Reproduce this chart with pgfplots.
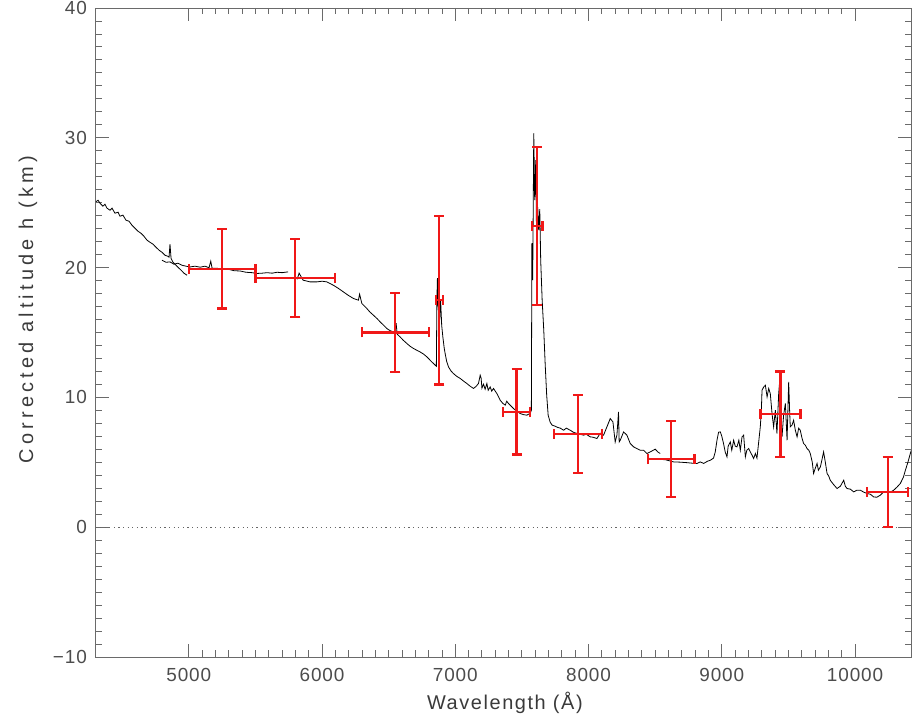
\documentclass[border=0pt]{standalone}
\usepackage{pgfplots}
\pgfplotsset{compat=1.18}
\usepackage{pgfplotstable}
\usepackage{fontspec}
\setmainfont{Liberation Sans}
\definecolor{ebred}{HTML}{F01818}
\definecolor{framegray}{HTML}{6A6A6A}
\definecolor{labgray}{HTML}{3A3A3A}

% measured error-bar points: wavelength, altitude, half widths
\pgfplotstableread{
x     y     ex   ey
5250  19.9  250  3.05
5800  19.2  300  3.0
6550  15.0  250  3.05
6880  17.5  25   6.5
7615  23.2  40   6.1
7460  8.9   100  3.3
7920  7.2   180  3.0
8620  5.25  175  2.95
9440  8.7   150  3.3
10245 2.7   155  2.7
}\points

\begin{document}
\begin{tikzpicture}
\useasboundingbox (-95.5bp,-59bp) rectangle (818.5bp,657bp);
\begin{axis}[
    scale only axis,
    width=815.5bp, height=649bp,
    xmin=4300, xmax=10420,
    ymin=-10, ymax=40,
    xtick={5000,6000,...,10000},
    ytick={-10,0,...,40},
    yticklabels={−10,0,10,20,30,40},
    minor x tick num=9,
    minor y tick num=9,
    tick align=inside,
    major tick length=13bp,
    minor tick length=6.5bp,
    scaled ticks=false,
    /pgf/number format/1000 sep={},
    /pgf/number format/assume math mode=true,
    axis line style={framegray, line width=0.9bp},
    every tick/.style={framegray, line width=0.9bp},
    tick label style={font=\fontsize{19}{22}\selectfont\addfontfeatures{LetterSpace=5}, color=black!70},
    xticklabel style={yshift=-8bp},
    yticklabel style={xshift=-5bp},
    label style={color=labgray},
    xlabel={Wavelength (Å)},
    ylabel={Corrected altitude h (km)},
    xlabel style={font=\fontsize{20}{24}\selectfont\addfontfeatures{LetterSpace=8},
        at={(axis description cs:0.502,-0.0709)}, anchor=center},
    ylabel style={font=\fontsize{20}{24}\selectfont\addfontfeatures{LetterSpace=21},
        at={(axis description cs:-0.0828,0.535)}, anchor=center},
    clip=true,
]
% zero level
\addplot[black!60, line width=0.9bp, dash pattern=on 1.2bp off 3.4bp] coordinates {(4300,0) (10420,0)};

% spectrum, first piece
\addplot[black, line width=0.8bp] coordinates {
(4304,25.08) (4319,25.19) (4334,24.96) (4356,24.73) (4371,24.88) (4386,24.58)
(4409,24.42) (4424,24.58) (4446,24.19) (4469,24.27) (4484,23.96) (4506,24.04)
(4529,23.65) (4552,23.57) (4574,23.26) (4597,23.03) (4619,22.80) (4642,22.64)
(4664,22.41) (4687,22.11) (4709,21.95) (4732,21.80) (4754,21.57) (4777,21.34)
(4799,21.18) (4822,20.95) (4844,20.87) (4852,20.80) (4859,21.80) (4867,20.72)
(4882,20.41) (4897,20.26) (4919,20.03) (4942,19.80) (4964,19.57) (4987,19.41)
};
% second piece
\addplot[black, line width=0.8bp] coordinates {
(4799,20.57) (4829,20.41) (4859,20.44) (4889,20.26) (4919,20.34) (4949,20.18)
(4979,20.11) (5010,20.05) (5047,20.11) (5085,20.03) (5122,20.11) (5152,19.99)
(5165,20.49) (5175,19.95) (5212,19.95) (5257,19.85) (5295,19.88) (5340,19.76)
(5385,19.74) (5430,19.64) (5475,19.61) (5512,19.55) (5550,19.57) (5588,19.61)
(5625,19.57) (5663,19.64) (5700,19.61) (5745,19.67)
};
% third piece, with the B and A bands
\addplot[black, line width=0.8bp] coordinates {
(5813,19.10) (5828,19.57) (5858,19.03) (5910,18.90) (5961,18.90) (6001,18.95)
(6036,18.90) (6085,18.64) (6121,18.41) (6160,18.13) (6196,17.87) (6236,17.62)
(6273,17.49) (6282,17.95) (6299,17.23) (6336,16.85) (6361,16.56) (6386,16.33)
(6414,16.06) (6436,15.82) (6462,15.56) (6486,15.31) (6511,15.14) (6536,15.05)
(6549,14.95) (6556,15.72) (6564,14.87) (6586,14.66) (6609,14.41) (6637,14.15)
(6661,13.94) (6686,13.77) (6710,13.64) (6736,13.50) (6763,13.33) (6787,13.12)
(6808,12.90) (6824,12.73) (6838,12.60) (6849,12.48) (6858,12.40) (6862,17.49)
(6866,19.18) (6872,16.72) (6877,18.26) (6883,15.95) (6890,17.49) (6898,15.56)
(6907,14.64) (6917,13.79) (6924,13.38) (6935,12.79) (6949,12.35) (6969,12.02)
(6986,11.84) (7010,11.63) (7037,11.46) (7063,11.25) (7087,11.07) (7112,10.86)
(7137,10.69) (7157,10.86) (7174,11.07) (7187,11.71) (7194,11.48) (7200,10.71)
(7212,11.02) (7224,10.63) (7237,11.07) (7247,10.55) (7262,10.81) (7273,10.48)
(7287,10.69) (7300,10.48) (7312,10.30) (7326,10.02) (7337,9.78) (7356,9.55)
(7375,9.40) (7386,9.71) (7399,9.53) (7420,9.32) (7437,9.14) (7461,8.94)
(7487,8.76) (7513,8.67) (7537,8.63) (7551,8.71) (7562,8.76) (7571,9.01)
(7575,21.88) (7581,19.03) (7589,30.35) (7596,25.19) (7604,28.27) (7611,21.34)
(7619,24.65) (7626,22.88) (7634,24.50) (7641,20.57) (7652,17.49) (7664,15.18)
(7675,12.48) (7686,10.17) (7697,8.63) (7712,8.09) (7727,7.86) (7750,7.78)
(7765,7.70) (7788,7.63) (7813,7.47) (7833,7.63) (7863,7.47) (7885,7.32)
(7913,7.22) (7938,7.16) (7963,7.09) (7983,7.16) (8013,6.96) (8035,6.93)
(8063,6.83) (8088,7.24) (8113,7.09) (8138,7.73) (8163,8.37) (8183,8.11)
(8200,6.57) (8213,7.09) (8225,8.88) (8230,6.57) (8238,6.70) (8263,7.34)
(8288,7.09) (8313,6.45) (8338,6.19) (8363,6.06) (8388,5.93) (8413,5.93)
(8438,5.68) (8463,5.80) (8500,6.01) (8522,5.78) (8538,5.68)
};
% fourth piece
\addplot[black, line width=0.8bp] coordinates {
(8441,5.32) (8501,5.24) (8576,5.20) (8638,5.03) (8689,5.01) (8741,4.97)
(8779,4.93) (8814,4.91) (8839,5.03) (8864,4.91) (8892,5.08) (8914,5.16)
(8938,5.32) (8951,5.80) (8964,6.70) (8976,7.32) (8989,7.34) (9000,7.01)
(9013,6.45) (9026,5.78) (9039,5.42) (9048,6.24) (9064,6.57) (9075,5.93)
(9089,6.70) (9101,6.24) (9114,6.19) (9128,6.70) (9139,5.93) (9152,6.96)
(9164,7.09) (9177,5.42) (9188,5.93) (9202,6.06) (9214,5.80) (9227,5.55)
(9239,5.29) (9252,5.68) (9264,5.32) (9277,6.57) (9289,7.73) (9297,9.01)
(9302,10.55) (9315,10.81) (9327,10.94) (9340,10.04) (9352,10.69) (9364,10.30)
(9377,8.76) (9389,7.73) (9402,9.01) (9414,7.22) (9427,10.30) (9439,11.84)
(9445,8.24) (9452,6.96) (9464,8.63) (9477,9.53) (9490,6.70) (9502,11.19)
(9509,9.01) (9514,7.73) (9527,7.86) (9539,8.24) (9552,7.47) (9565,6.96)
(9577,7.63) (9589,7.47) (9602,6.86) (9614,6.45) (9627,6.32) (9640,6.06)
(9653,5.93) (9664,5.68) (9679,5.01) (9689,4.14) (9702,4.55) (9715,4.91)
(9725,4.39) (9740,4.65) (9751,5.16) (9764,5.80) (9777,5.01) (9790,4.14)
(9803,3.93) (9814,3.62) (9837,3.31) (9865,2.98) (9890,3.16) (9915,3.62)
(9927,3.16) (9940,2.98) (9965,2.93) (9990,2.72) (10014,2.85) (10040,2.85)
(10065,2.70) (10090,2.60) (10115,2.54) (10140,2.33) (10164,2.31) (10190,2.47)
(10212,2.70) (10240,2.72) (10265,2.70) (10290,2.85) (10314,3.08) (10340,3.37)
(10363,3.85) (10378,4.39) (10397,5.01) (10415,5.68) (10423,5.93)
};

% red measurements
\addplot[draw=none, mark=none,
    error bars/.cd,
    x dir=both, x explicit,
    y dir=both, y explicit,
    error mark=|,
    error bar style={ebred, line width=2.2bp},
    error mark options={ebred, line width=2.2bp, mark size=5bp},
] table[x=x, y=y, x error=ex, y error=ey] {\points};
\end{axis}
\end{tikzpicture}
\end{document}
